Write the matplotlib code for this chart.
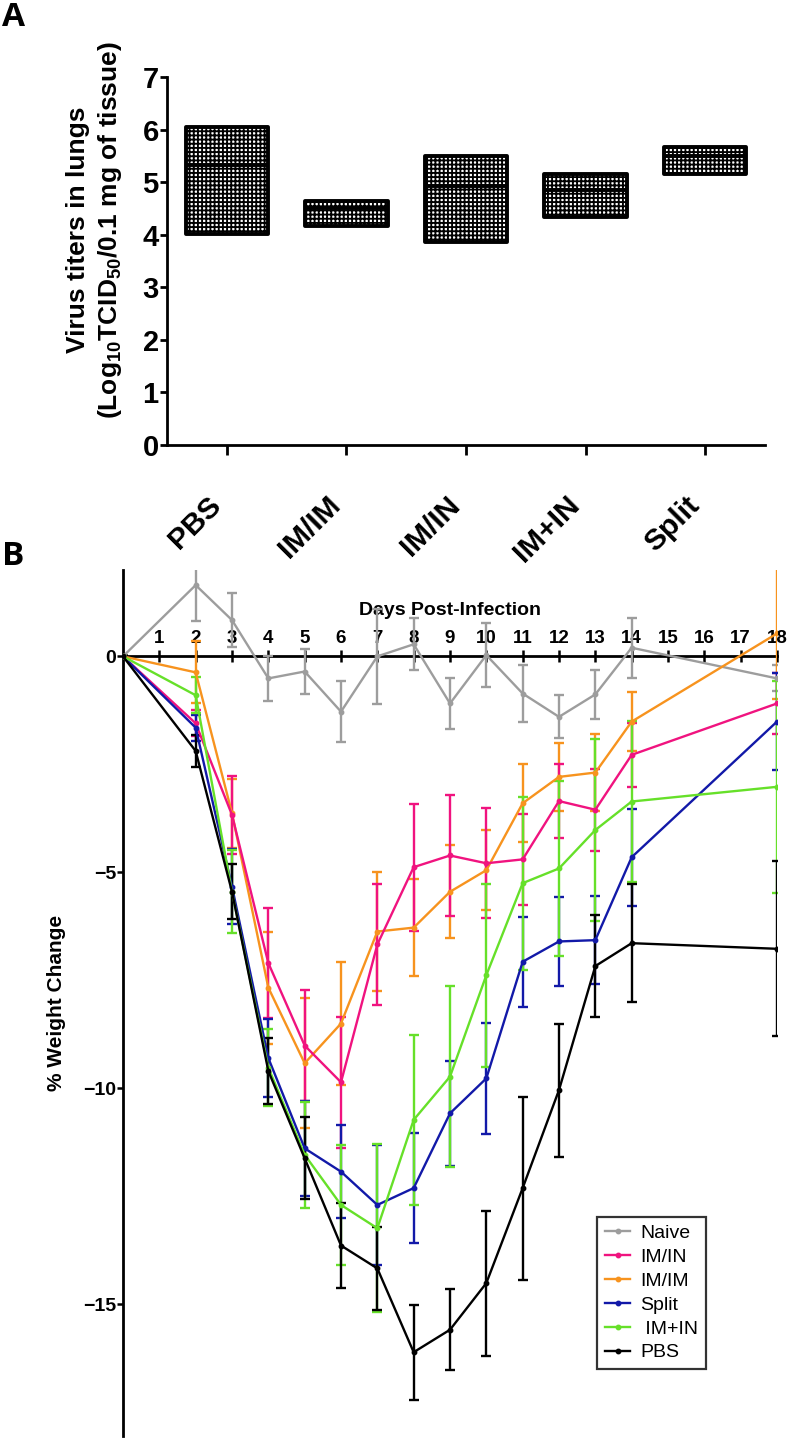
import numpy as np
import matplotlib
matplotlib.use("Agg")
import matplotlib.pyplot as plt
from matplotlib.lines import Line2D

plt.rcParams['font.family'] = ['Liberation Sans', 'DejaVu Sans']
plt.rcParams['mathtext.fontset'] = 'custom'
plt.rcParams['mathtext.bf'] = 'Liberation Sans:bold'
plt.rcParams['mathtext.rm'] = 'Liberation Sans:bold'
plt.rcParams['mathtext.default'] = 'bf'
plt.rcParams['hatch.linewidth'] = 1.35

# ---------------- Panel A data ----------------
groups = ['PBS', 'IM/IM', 'IM/IN', 'IM+IN', 'Split']
titer_min = [4.02, 4.17, 3.87, 4.33, 5.15]
titer_max = [6.04, 4.65, 5.50, 5.16, 5.67]
titer_mean = [5.33, 4.51, 4.93, 4.85, 5.49]
a_yticks = [0, 1, 2, 3, 4, 5, 6, 7]

# ---------------- Panel B data ----------------
days = [0, 2, 3, 4, 5, 6, 7, 8, 9, 10, 11, 12, 13, 14, 18]
naive = [0, 1.65, 0.84, -0.51, -0.35, -1.28, 0.0, 0.28, -1.09, 0.03, -0.86, -1.40, -0.88, 0.20, -0.51]
naive_err = [0, 0.83, 0.63, 0.52, 0.52, 0.71, 1.10, 0.60, 0.58, 0.75, 0.67, 0.50, 0.56, 0.69, 0.30]
im_in = [0, -1.55, -3.67, -7.10, -9.01, -9.86, -6.67, -4.88, -4.61, -4.79, -4.70, -3.35, -3.55, -2.28, -1.09]
im_in_err = [0, 0.30, 0.90, 1.28, 1.28, 1.52, 1.40, 1.47, 1.40, 1.27, 1.06, 0.86, 0.95, 0.74, 0.70]
im_im = [0, -0.37, -3.63, -7.67, -9.42, -8.50, -6.37, -6.28, -5.45, -4.95, -3.40, -2.79, -2.69, -1.51, 0.53]
im_im_err = [0, 0.72, 0.80, 1.30, 1.50, 1.43, 1.37, 1.13, 1.08, 0.93, 0.90, 0.78, 0.90, 0.68, 1.52]
split = [0, -1.65, -5.33, -9.30, -11.39, -11.93, -12.70, -12.31, -10.58, -9.77, -7.07, -6.60, -6.57, -4.65, -1.51]
split_err = [0, 0.30, 0.86, 0.90, 1.10, 1.08, 1.39, 1.27, 1.21, 1.29, 1.04, 1.02, 1.02, 1.12, 1.12]
im_plus_in = [0, -0.90, -5.45, -9.52, -11.54, -12.70, -13.24, -10.73, -9.73, -7.38, -5.25, -4.91, -4.02, -3.36, -3.02]
im_plus_in_err = [0, 0.42, 0.96, 0.90, 1.23, 1.38, 1.94, 1.97, 2.10, 2.12, 2.00, 2.02, 2.10, 1.86, 2.45]
pbs = [0, -2.19, -5.45, -9.60, -11.62, -13.64, -14.17, -16.11, -15.59, -14.51, -12.31, -10.04, -7.17, -6.64, -6.77]
pbs_err = [0, 0.38, 0.64, 0.77, 0.95, 0.98, 0.97, 1.10, 0.94, 1.68, 2.12, 1.54, 1.18, 1.37, 2.03]

b_xticks = list(range(1, 19))
b_yticks = [0, -5, -10, -15]

series = [
    ('Naive', naive, naive_err, '#9d9d9d'),
    ('IM/IM', im_im, im_im_err, '#f7931e'),
    ('IM/IN', im_in, im_in_err, '#f0137f'),
    ('Split', split, split_err, '#1219a8'),
    (' IM+IN', im_plus_in, im_plus_in_err, '#66e029'),
    ('PBS', pbs, pbs_err, '#000000'),
]
legend_order = ['Naive', 'IM/IN', 'IM/IM', 'Split', ' IM+IN', 'PBS']

W, H = 787, 1438
fig = plt.figure(figsize=(W / 100, H / 100), dpi=100)

# ---------------- Panel A ----------------
axA = fig.add_axes([167 / W, 1 - 445 / H, (765 - 167) / W, (445 - 77) / H])
x = np.arange(len(groups))
lo = np.array(titer_min)
hi = np.array(titer_max)
bw = 0.69
axA.bar(x, hi - lo, bottom=lo, width=bw, facecolor='white', edgecolor='black',
        hatch='++++', linewidth=2.8, joinstyle='round', zorder=2)
axA.hlines(titer_mean, x - bw / 2, x + bw / 2, color='black', lw=2.8, zorder=3)
axA.set_xlim(-0.5, 4.5)
axA.set_ylim(0, 7)
axA.set_yticks(a_yticks)
axA.set_xticks(x)
axA.set_xticklabels(groups, rotation=45, ha='right', va='top',
                    rotation_mode='default', fontsize=21.5, fontweight='bold')
for lab in axA.get_yticklabels():
    lab.set_fontsize(21)
    lab.set_fontweight('bold')
for s in ['top', 'right']:
    axA.spines[s].set_visible(False)
for s in ['left', 'bottom']:
    axA.spines[s].set_linewidth(2.0)
axA.tick_params(axis='y', length=5, width=2, pad=1)
axA.tick_params(axis='x', length=7, width=2, pad=26)
axA.set_ylabel('Virus titers in lungs\n(Log$_{10}$TCID$_{50}$/0.1 mg of tissue)',
               fontsize=19, fontweight='bold', linespacing=1.3)
axA.yaxis.set_label_coords(-0.072, 0.585)

# ---------------- Panel B ----------------
axB = fig.add_axes([123 / W, 1 - 1436 / H, (777 - 123) / W, (1436 - 570) / H])
handles = {}
for name, vals, errs, col in series:
    axB.errorbar(days, vals, yerr=errs, color=col, lw=1.7, elinewidth=1.7,
                 capsize=3.5, capthick=1.7, marker='o', ms=3.2, zorder=3)
    handles[name] = Line2D([], [], color=col, lw=1.7, marker='o', ms=3.2)

axB.set_xlim(0, 18)
axB.set_ylim(-18.05, 2.0)
axB.spines['right'].set_visible(False)
axB.spines['bottom'].set_visible(False)
axB.spines['top'].set_position(('data', 0))
axB.spines['top'].set_linewidth(2.0)
axB.spines['left'].set_linewidth(2.0)
axB.xaxis.set_ticks_position('top')
axB.xaxis.set_label_position('top')
axB.set_xticks(b_xticks)
axB.set_yticks(b_yticks)
axB.tick_params(axis='x', direction='inout', length=9, width=1.8, pad=2,
                labelsize=13.5)
axB.tick_params(axis='y', length=4, width=1.8, pad=1, labelsize=14)
for lab in axB.get_xticklabels() + axB.get_yticklabels():
    lab.set_fontweight('bold')
axB.set_xlabel('Days Post-Infection', fontsize=14, fontweight='bold', labelpad=11)
axB.set_ylabel('% Weight Change', fontsize=15, fontweight='bold', labelpad=12)

leg = axB.legend([handles[n] for n in legend_order], legend_order,
                 loc='upper left', bbox_to_anchor=(0.725, 0.253), fontsize=14,
                 frameon=True, fancybox=False, handlelength=1.3, handletextpad=0.5,
                 labelspacing=0.32, borderpad=0.4, borderaxespad=0)
leg.get_frame().set_edgecolor('black')
leg.get_frame().set_linewidth(1.6)

fig.text(0.002, 0.999, 'A', fontsize=24, fontweight='bold', va='top', ha='left',
         family=['Open Sans', 'DejaVu Sans'])
fig.text(0.002, 1 - 540 / H, 'B', fontsize=24, fontweight='bold', va='top', ha='left',
         family=['Open Sans', 'DejaVu Sans'])

fig.savefig('out.png', dpi=100)
